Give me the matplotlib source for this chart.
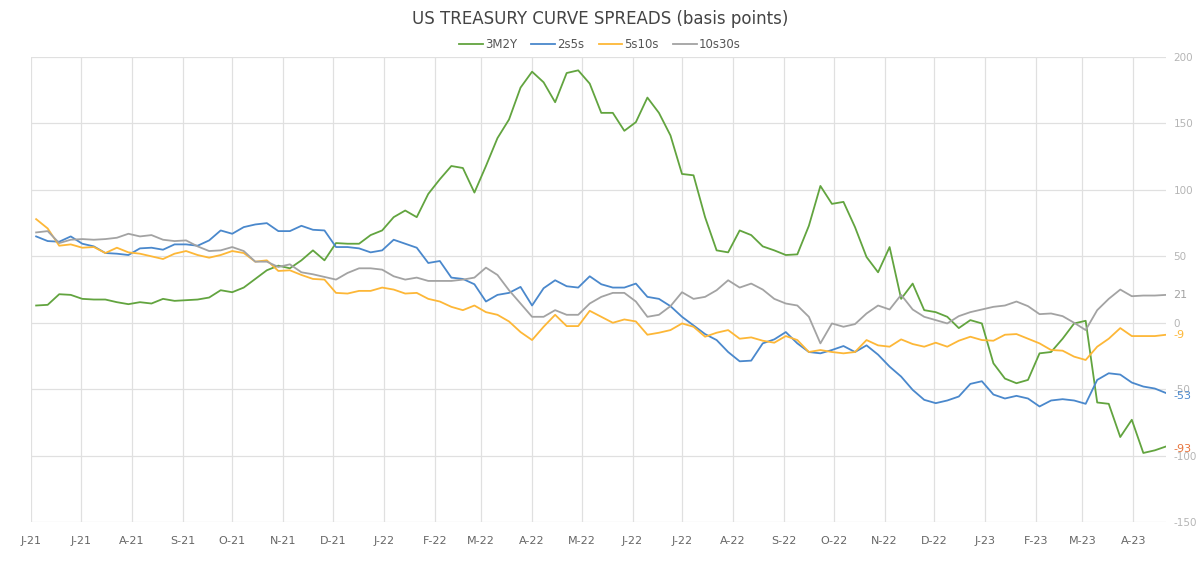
import numpy as np
import pandas as pd
import matplotlib
matplotlib.use("Agg")
import matplotlib.pyplot as plt

plt.rcParams["axes.unicode_minus"] = False

# weekly readings (bp), first week ending 2021-06-04
start_date = "2021-06-04"

spread_3m2y = [13, 13.5, 21.5, 21, 18, 17.5, 17.5, 15.5, 14, 15.5, 14.5, 18, 16.5, 17, 17.5, 19,
               24.5, 23, 26.5, 33, 39.5, 43, 41, 47, 54.5, 47, 60, 59.5, 59.5, 66, 69.5, 79.5, 84.5,
               79.5, 97, 108, 118, 116.5, 98, 118, 139, 153, 177, 189, 181, 166, 188, 190, 180,
               158, 158, 144.5, 151, 169.5, 158, 141, 112, 111, 79.5, 54.5, 53, 69.5, 66, 57.5,
               54.5, 51, 51.5, 73, 103, 89.5, 91, 72, 49.5, 38, 57, 18, 29.5, 9.5, 8, 4.5, -4, 2,
               -0.5, -30.5, -42, -45.5, -43, -23, -22, -12, -0.5, 1.5, -60, -61, -86, -73, -98,
               -96, -93]

spread_2s5s = [65, 61.5, 61, 65, 59.5, 57.5, 52.5, 52, 51, 56, 56.5, 55, 59, 59, 58, 62,
               69.5, 67, 72, 74, 75, 69, 69, 73, 70, 69.5, 57, 57, 56, 53, 54.5, 62.5, 59.5,
               56.5, 45, 46.5, 34, 33, 29, 16, 21, 22.5, 27, 13, 26, 32, 27.5, 26.5, 35, 29,
               26.5, 26.5, 29.5, 19.5, 18, 12.5, 4.5, -2, -8.5, -13, -22, -29, -28.5, -15.5,
               -12.5, -7, -15.5, -22, -23, -20.5, -17.5, -22, -17, -24, -33, -40.5, -50.5, -58,
               -60.5, -58.5, -55.5, -46, -44, -54, -57, -55, -57, -63, -58.5, -57.5, -58.5, -61,
               -43, -38, -39, -45, -48, -49.5, -53]

spread_5s10s = [78, 71, 58, 59, 56.5, 57, 52.5, 56.5, 53, 52, 50, 48, 52, 54, 51, 49,
                51, 54, 52.5, 46, 47, 39, 39.5, 36, 33, 32.5, 22.5, 22, 24, 24, 26.5, 25, 22,
                22.5, 18, 16, 12, 9.5, 13, 8, 6, 1, -7, -13, -3, 6, -2.5, -2.5, 9, 4.5, 0, 2.5,
                1, -9, -7.5, -5.5, -0.5, -3, -10.5, -7.5, -5.5, -12, -11, -13.5, -15, -10, -13,
                -22, -20.5, -22, -23, -22, -13, -17, -18, -12.5, -16, -18, -15, -18, -13.5,
                -10.5, -13, -13.5, -9, -8.5, -12, -15.5, -20.5, -21, -25.5, -28, -18, -12, -4,
                -10, -10, -10, -9]

spread_10s30s = [68, 69, 60, 62.5, 63, 62.5, 63, 64, 67, 65, 66, 62.5, 61.5, 62, 57.5, 54,
                 54.5, 57, 54, 46, 46, 42, 44, 38, 36.5, 34.5, 32.5, 37.5, 41, 41, 40, 35, 32.5,
                 34, 31.5, 31.5, 31.5, 32.5, 34, 41.5, 36, 24.5, 14.5, 4.5, 4.5, 9.5, 6, 6, 14.5,
                 19.5, 22.5, 22.5, 16, 4.5, 6, 12.5, 23, 18, 19.5, 24.5, 32, 26.5, 29.5, 25, 18,
                 14.5, 13, 4.5, -15.5, -0.5, -3, -1, 7, 13, 10, 21, 10, 4.5, 2, -0.5, 5, 8, 10,
                 12, 13, 16, 12.5, 6.5, 7, 5, 0, -5.5, 9.5, 18, 25, 20, 20.5, 20.5, 21]

series_names = ["3M2Y", "2s5s", "5s10s", "10s30s"]
series_colors = ["#62a43f", "#4a88cc", "#fdb737", "#a3a3a3"]
end_label_colors = ["#e8743b", "#4a88cc", "#fdb737", "#a3a3a3"]

dates = pd.date_range(start_date, periods=len(spread_3m2y), freq="7D")
all_series = [spread_3m2y, spread_2s5s, spread_5s10s, spread_10s30s]

fig = plt.figure(figsize=(12, 5.65), dpi=100)
ax = fig.add_axes([0.026, 0.076, 0.946, 0.823])

for vals, name, col in zip(all_series, series_names, series_colors):
    ax.plot(dates, vals, color=col, lw=1.3, label=name)

x_end = pd.Timestamp("2023-04-21")
ax.set_xlim(pd.Timestamp("2021-06-01"), x_end)
ax.set_ylim(-150, 200)

months = pd.date_range("2021-06-01", "2023-04-01", freq="MS")
ax.set_xticks(months)
ax.set_xticklabels([m.strftime("%b")[0] + "-" + m.strftime("%y") for m in months])
ax.set_yticks(np.arange(-150, 201, 50))
ax.yaxis.tick_right()

ax.grid(True, color="#e0e0e0", lw=0.9)
ax.set_axisbelow(True)
for s in ax.spines.values():
    s.set_visible(False)
ax.tick_params(axis="both", length=0)
ax.tick_params(axis="x", colors="#666666", pad=10, labelsize=8)
ax.tick_params(axis="y", colors="#b5b5b5", pad=5, labelsize=7.5)

# last values on the right side
for vals, col in zip(all_series, end_label_colors):
    ax.annotate(f"{vals[-1]:.0f}", xy=(1.0, vals[-1]), xycoords=("axes fraction", "data"),
                xytext=(5, -2 if vals[-1] < -50 else 0), textcoords="offset points",
                va="center", ha="left", fontsize=8, color=col)

fig.text(0.5, 0.967, "US TREASURY CURVE SPREADS (basis points)", ha="center", va="center",
         fontsize=12, color="#444444")
fig.legend(loc="center", bbox_to_anchor=(0.5, 0.921), ncol=4, frameon=False, fontsize=8.5,
           handlelength=2.0, handletextpad=0.2, columnspacing=1.2, labelcolor="#555555")

fig.savefig("out.png", dpi=100)
